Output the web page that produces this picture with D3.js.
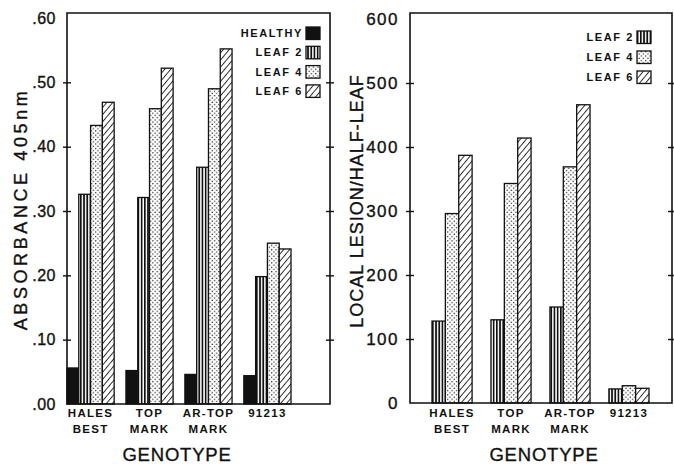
<!DOCTYPE html>
<html><head><meta charset="utf-8">
<script src="https://cdn.jsdelivr.net/npm/d3@7"></script>
<style>
html,body{margin:0;padding:0;background:#fff;}
svg{display:block;}
text{font-family:"Liberation Sans",Arial,Helvetica,sans-serif;fill:#111;}
</style></head>
<body>
<svg id="chart" width="674" height="464"></svg>
<script>
// ---------- DATA ----------
const genotypes = ["HALES BEST", "TOP MARK", "AR-TOP MARK", "91213"];
const genotypeLines = [["HALES", "BEST"], ["TOP", "MARK"], ["AR-TOP", "MARK"], ["91213"]];

const absorbanceSeries = ["HEALTHY", "LEAF 2", "LEAF 4", "LEAF 6"];
const absorbanceHealthy = [0.056, 0.052, 0.046, 0.044];
const absorbanceLeaf2   = [0.326, 0.321, 0.368, 0.198];
const absorbanceLeaf4   = [0.433, 0.459, 0.490, 0.250];
const absorbanceLeaf6   = [0.469, 0.522, 0.552, 0.241];
const absorbanceTicks = [0, 0.1, 0.2, 0.3, 0.4, 0.5, 0.6];
const absorbanceTickLabels = [".00", ".10", ".20", ".30", ".40", ".50", ".60"];

const lesionSeries = ["LEAF 2", "LEAF 4", "LEAF 6"];
const lesionLeaf2 = [128, 130, 150, 22];
const lesionLeaf4 = [296, 343, 369, 27];
const lesionLeaf6 = [387, 414, 466, 23];
const lesionTicks = [0, 100, 200, 300, 400, 500, 600];
const lesionTickLabels = ["0", "100", "200", "300", "400", "500", "600"];

// ---------- DRAW ----------
const svg = d3.select("#chart");
const INK = "#111";
const defs = svg.append("defs");

// fill patterns
const pV = defs.append("pattern").attr("id", "p-leaf2").attr("patternUnits", "userSpaceOnUse")
  .attr("width", 3.2).attr("height", 10);
pV.append("rect").attr("width", 3.2).attr("height", 10).attr("fill", "#fff");
pV.append("rect").attr("x", 0).attr("width", 1.7).attr("height", 10).attr("fill", INK);

const pD = defs.append("pattern").attr("id", "p-leaf4").attr("patternUnits", "userSpaceOnUse")
  .attr("width", 4.4).attr("height", 4.4);
pD.append("rect").attr("width", 4.4).attr("height", 4.4).attr("fill", "#fff");
pD.append("circle").attr("cx", 1.1).attr("cy", 1.1).attr("r", 0.7).attr("fill", INK);
pD.append("circle").attr("cx", 3.3).attr("cy", 3.3).attr("r", 0.7).attr("fill", INK);

const pH = defs.append("pattern").attr("id", "p-leaf6").attr("patternUnits", "userSpaceOnUse")
  .attr("width", 4.6).attr("height", 10).attr("patternTransform", "rotate(40)");
pH.append("rect").attr("width", 4.6).attr("height", 10).attr("fill", "#fff");
pH.append("line").attr("x1", 0.5).attr("x2", 0.5).attr("y1", 0).attr("y2", 10)
  .attr("stroke", INK).attr("stroke-width", 0.9);

const fills = {"HEALTHY": INK, "LEAF 2": "url(#p-leaf2)", "LEAF 4": "url(#p-leaf4)", "LEAF 6": "url(#p-leaf6)"};

function drawPanel(opt) {
  const g = svg.append("g");
  const x0 = d3.scaleBand().domain(genotypes).range(opt.xRange).paddingInner(opt.padInner).paddingOuter(0);
  const x1 = d3.scaleBand().domain(opt.series).range([0, x0.bandwidth()]);
  const y = d3.scaleLinear().domain([0, d3.max(opt.ticks)]).range(opt.yRange);

  const left = opt.frame[0], right = opt.frame[1], top = opt.frame[2], base = y(0);

  // bars
  genotypes.forEach((gname, i) => {
    opt.series.forEach((s, j) => {
      const v = opt.values[j][i];
      g.append("rect")
        .attr("x", x0(gname) + x1(s))
        .attr("y", y(v))
        .attr("width", x1.bandwidth())
        .attr("height", base - y(v))
        .attr("fill", fills[s])
        .attr("stroke", INK).attr("stroke-width", 1.3);
    });
  });

  // frame
  g.append("path")
    .attr("d", `M${left},${top}H${right}V${base}H${left}Z`)
    .attr("fill", "none").attr("stroke", INK).attr("stroke-width", 1.6);

  // left axis
  const ax = g.append("g").attr("transform", `translate(${left},0)`)
    .call(d3.axisLeft(y).tickValues(opt.ticks).tickFormat((d, i) => opt.tickLabels[i]).tickSize(4).tickPadding(opt.tickPad));
  ax.select(".domain").remove();
  ax.selectAll(".tick line").attr("x1", 4).attr("x2", -4).attr("stroke", INK).attr("stroke-width", 1.4)
    .filter(d => d === 0 || d === d3.max(opt.ticks)).remove();
  ax.selectAll(".tick text").attr("font-size", opt.tickFont).attr("letter-spacing", opt.tickLs)
    .style("font-family", '"Liberation Sans",Arial,sans-serif').attr("fill", INK)
    .attr("stroke", INK).attr("stroke-width", 0.35);

  // right border ticks
  const rt = g.append("g").attr("transform", `translate(${right},0)`)
    .call(d3.axisRight(y).tickValues(opt.ticks.filter(d => d > 0 && d < d3.max(opt.ticks))).tickFormat("").tickSize(4));
  rt.select(".domain").remove();
  rt.selectAll(".tick line").attr("x1", -4).attr("x2", 4).attr("stroke", INK).attr("stroke-width", 1.4);

  // x labels
  genotypes.forEach((gname, i) => {
    const cx = x0(gname) + x0.bandwidth() / 2;
    genotypeLines[i].forEach((ln, k) => {
      g.append("text").attr("x", cx).attr("y", opt.xLabY + k * 16)
        .attr("text-anchor", "middle").attr("font-size", 11.5).attr("font-weight", "bold")
        .attr("letter-spacing", 1.3).text(ln);
    });
  });

  // axis titles
  g.append("text").attr("x", opt.xTitle[0]).attr("y", opt.xTitle[1]).attr("text-anchor", "middle")
    .attr("font-size", 18.5).attr("letter-spacing", 0.8).attr("stroke", INK).attr("stroke-width", 0.35)
    .text("GENOTYPE");
  g.append("text").attr("transform", `translate(${opt.yTitle[0]},${opt.yTitle[1]}) rotate(-90)`)
    .attr("text-anchor", "middle").attr("font-size", opt.yTitleFont).attr("letter-spacing", opt.yTitleLs)
    .attr("stroke", INK).attr("stroke-width", 0.35)
    .text(opt.yTitleText);

  // legend
  opt.series.forEach((s, j) => {
    const ly = opt.legend[1] + j * opt.legend[2];
    g.append("rect").attr("x", opt.legend[0]).attr("y", ly - 6).attr("width", 14).attr("height", 12.5)
      .attr("fill", fills[s]).attr("stroke", INK).attr("stroke-width", 1.3);
    g.append("text").attr("x", opt.legend[0] - 3).attr("y", ly + 4).attr("text-anchor", "end")
      .attr("font-size", 11).attr("font-weight", "bold").attr("letter-spacing", 1.6).text(s);
  });
}

drawPanel({
  series: absorbanceSeries,
  values: [absorbanceHealthy, absorbanceLeaf2, absorbanceLeaf4, absorbanceLeaf6],
  ticks: absorbanceTicks, tickLabels: absorbanceTickLabels,
  xRange: [67, 291], padInner: 0.2,
  yRange: [404, 18],
  frame: [67, 330, 13],
  tickPad: 7, tickFont: 16, tickLs: 0.5,
  xLabY: 417,
  xTitle: [177, 461],
  yTitle: [27, 209], yTitleFont: 18, yTitleLs: 3.6, yTitleText: "ABSORBANCE 405nm",
  legend: [306, 33, 19.3]
});

drawPanel({
  series: lesionSeries,
  values: [lesionLeaf2, lesionLeaf4, lesionLeaf6],
  ticks: lesionTicks, tickLabels: lesionTickLabels,
  xRange: [432, 649], padInner: 0.32,
  yRange: [403, 19],
  frame: [410, 672, 13],
  tickPad: 7, tickFont: 17, tickLs: 1.5,
  xLabY: 417,
  xTitle: [544, 461],
  yTitle: [363, 201], yTitleFont: 18, yTitleLs: 1, yTitleText: "LOCAL LESION/HALF-LEAF",
  legend: [637, 37, 20]
});
</script>
</body></html>
